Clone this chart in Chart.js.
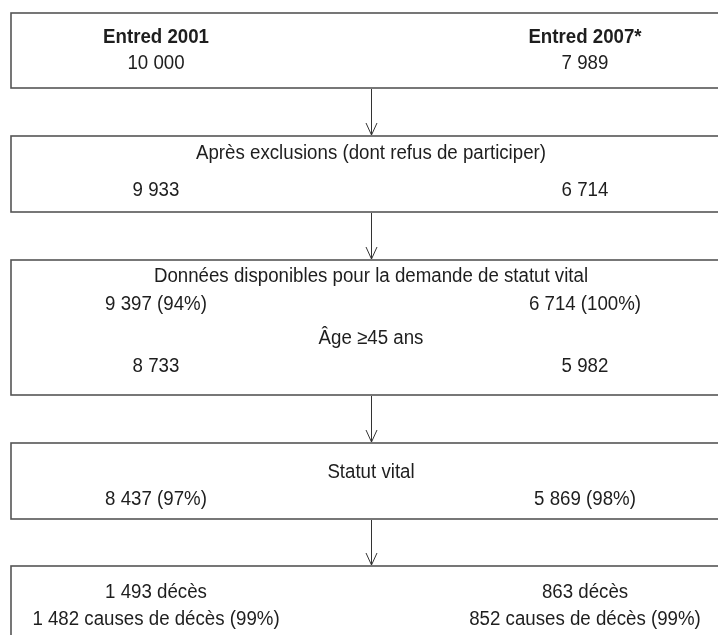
<!DOCTYPE html>
<html>
<head>
<meta charset="utf-8">
<script src="https://cdn.jsdelivr.net/npm/chart.js@4.4.1/dist/chart.umd.min.js"></script>
<style>
html,body{margin:0;padding:0;background:#fff;}
#c{display:block;}
</style>
</head>
<body>
<canvas id="c" width="718" height="635"></canvas>
<script>
// ---- Data ----
const cohorts = ['Entred 2001', 'Entred 2007*'];
const included = [10000, 7989];
const afterExclusions = [9933, 6714];
const availableForVitalStatus = [9397, 6714];
const availablePct = [94, 100];
const aged45Plus = [8733, 5982];
const vitalStatus = [8437, 5869];
const vitalStatusPct = [97, 98];
const deaths = [1493, 863];
const causesOfDeath = [1482, 852];
const causesPct = [99, 99];
const stageTitles = [
  'Après exclusions (dont refus de participer)',
  'Données disponibles pour la demande de statut vital',
  'Âge ≥45 ans',
  'Statut vital'
];

// ---- Layout (in chart units = pixels of the scale) ----
const boxLeft = 11, boxRight = 735;
const boxes = [[13, 88], [136, 212], [260, 395], [443, 519], [566, 660]];
const colX = [156, 585];
const midX = 371;

function fmt(n){ return String(n).replace(/\B(?=(\d{3})+(?!\d))/g, ' '); }

const flowPlugin = {
  id: 'flow',
  afterDraw(chart){
    const {ctx, scales:{x, y}} = chart;
    const X = v => x.getPixelForValue(v);
    const Y = v => y.getPixelForValue(v);
    const FONT = '"Liberation Sans Narrow", "Liberation Sans", Arial, sans-serif';
    const SIZE = 20;
    ctx.save();
    // compression factor so the title matches the reference width
    ctx.font = SIZE + 'px ' + FONT;
    const sx = 350 / ctx.measureText(stageTitles[0]).width;

    // boxes
    ctx.strokeStyle = '#555';
    ctx.lineWidth = 1.6;
    boxes.forEach(([t, b]) => {
      ctx.strokeRect(X(boxLeft), Y(t), X(boxRight) - X(boxLeft), Y(b) - Y(t));
    });
    // arrows
    ctx.strokeStyle = '#333';
    ctx.lineWidth = 1;
    for (let i = 0; i < boxes.length - 1; i++) {
      const x0 = Math.round(X(midX)) + 0.5;
      const y0 = Y(boxes[i][1]) + 1, y1 = Y(boxes[i+1][0]) - 1;
      ctx.beginPath();
      ctx.moveTo(x0, y0); ctx.lineTo(x0, y1);
      ctx.moveTo(x0 - 5.5, y1 - 12); ctx.lineTo(x0, y1); ctx.lineTo(x0 + 5.5, y1 - 12);
      ctx.stroke();
    }

    function txt(s, cx, cy, bold){
      ctx.save();
      ctx.font = (bold ? 'bold ' : '') + SIZE + 'px ' + FONT;
      ctx.fillStyle = '#1e1e1e';
      ctx.textAlign = 'center';
      ctx.textBaseline = 'middle';
      ctx.translate(X(cx), Y(cy));
      ctx.scale(sx, 1);
      ctx.fillText(s, 0, 0);
      ctx.restore();
    }
    const pair = (arr, cy, f) => arr.forEach((v, i) => txt(f(v, i), colX[i], cy));

    // box 1
    cohorts.forEach((c, i) => txt(c, colX[i], 37, true));
    pair(included, 63, v => fmt(v));
    // box 2
    txt(stageTitles[0], midX, 153);
    pair(afterExclusions, 190, v => fmt(v));
    // box 3
    txt(stageTitles[1], midX, 276);
    pair(availableForVitalStatus, 304, (v, i) => fmt(v) + ' (' + availablePct[i] + '%)');
    txt(stageTitles[2], midX, 338);
    pair(aged45Plus, 366, v => fmt(v));
    // box 4
    txt(stageTitles[3], midX, 472);
    pair(vitalStatus, 499, (v, i) => fmt(v) + ' (' + vitalStatusPct[i] + '%)');
    // box 5
    pair(deaths, 592, v => fmt(v) + ' décès');
    pair(causesOfDeath, 619, (v, i) => fmt(v) + ' causes de décès (' + causesPct[i] + '%)');
    ctx.restore();
  }
};

new Chart(document.getElementById('c'), {
  type: 'scatter',
  data: { datasets: [{ data: [] }] },
  options: {
    responsive: false,
    animation: false,
    layout: { padding: 0 },
    plugins: { legend: { display: false }, tooltip: { enabled: false } },
    scales: {
      x: { type: 'linear', min: 0, max: 718, display: false },
      y: { type: 'linear', min: 0, max: 635, reverse: true, display: false }
    }
  },
  plugins: [flowPlugin]
});
</script>
</body>
</html>
